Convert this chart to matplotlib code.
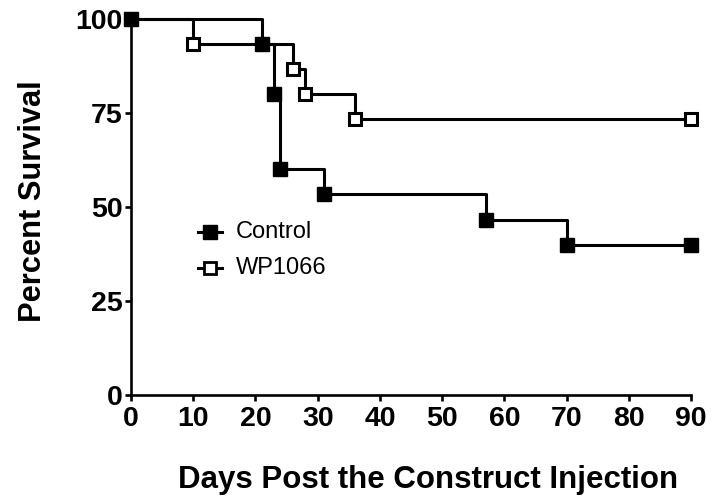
import matplotlib
matplotlib.use("Agg")
import matplotlib.pyplot as plt

plt.rcParams['font.family'] = ['Liberation Sans', 'DejaVu Sans']

# Kaplan-Meier survival (days, percent survival at each event)
control_days = [0, 21, 23, 24, 31, 57, 70, 90]
control_surv = [100, 93.33, 80, 60, 53.33, 46.67, 40, 40]

wp_days = [0, 10, 26, 28, 36, 90]
wp_surv = [100, 93.33, 86.67, 80, 73.33, 73.33]

x_ticks = [0, 10, 20, 30, 40, 50, 60, 70, 80, 90]
y_ticks = [0, 25, 50, 75, 100]

fig = plt.figure(figsize=(7.14, 4.99), dpi=100)
ax = fig.add_axes([0.1835, 0.2084, 0.7843, 0.7535])

lw = 2.2
ax.step(wp_days, wp_surv, where='post', color='black', lw=lw, clip_on=False,
        zorder=2)
ax.plot(wp_days[1:], wp_surv[1:], ls='', marker='s', ms=9, mfc='white',
        mec='black', mew=2.2, clip_on=False, zorder=4)
ax.step(control_days, control_surv, where='post', color='black', lw=lw,
        clip_on=False, zorder=3)
ax.plot(control_days, control_surv, ls='', marker='s', ms=10.5, color='black',
        clip_on=False, zorder=5)

ax.set_xlim(0, 90)
ax.set_ylim(0, 100)
ax.set_xticks(x_ticks)
ax.set_yticks(y_ticks)

for side in ['top', 'right']:
    ax.spines[side].set_visible(False)
for side in ['left', 'bottom']:
    ax.spines[side].set_linewidth(1.9)

ax.tick_params(direction='out', length=4, width=1.9, labelsize=20.5)
ax.tick_params(axis='x', pad=4)
ax.tick_params(axis='y', pad=2)
for lab in ax.get_xticklabels() + ax.get_yticklabels():
    lab.set_fontweight('bold')

ax.set_xlabel('Days Post the Construct Injection', fontsize=22.5,
              fontweight='bold')
ax.xaxis.set_label_coords(0.53, -0.186)
ax.set_ylabel('Percent Survival', fontsize=22.2, fontweight='bold')
ax.yaxis.set_label_coords(-0.148, 0.516)

# legend drawn by hand inside the axes
leg_x0, leg_x1 = 10.8, 14.6
for y, filled, name in [(43.4, True, 'Control'), (33.8, False, 'WP1066')]:
    ax.plot([leg_x0, leg_x1], [y, y], color='black', lw=lw)
    if filled:
        ax.plot([(leg_x0 + leg_x1) / 2], [y], marker='s', ms=9.5, color='black')
    else:
        ax.plot([(leg_x0 + leg_x1) / 2], [y], marker='s', ms=8.5, mfc='white',
                mec='black', mew=2)
    ax.text(16.9, y, name, fontsize=17, va='center', ha='left')

fig.savefig('out.png', dpi=100)
